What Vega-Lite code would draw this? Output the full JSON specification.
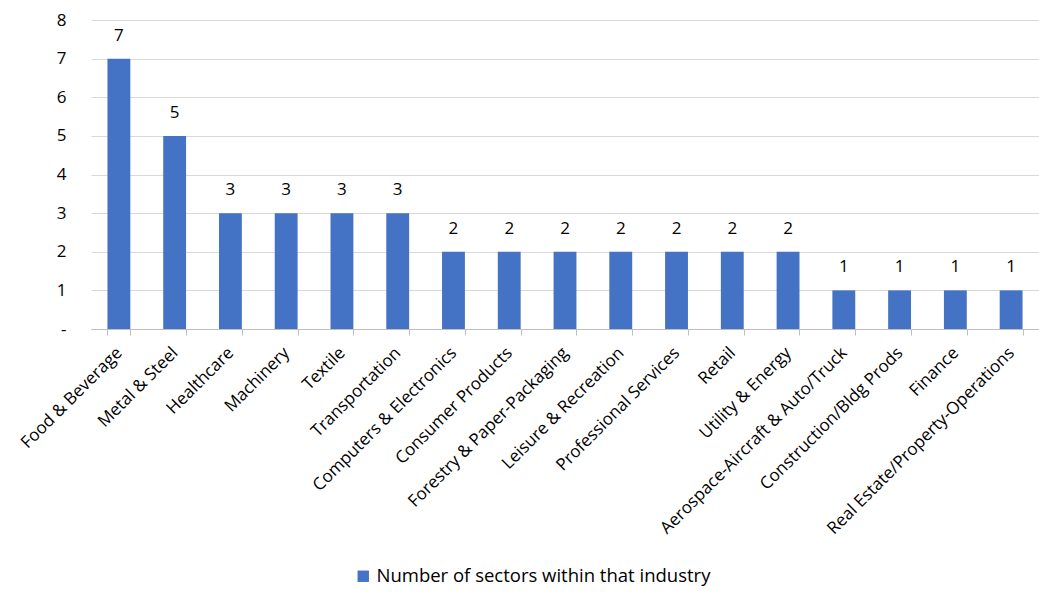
{
  "$schema": "https://vega.github.io/schema/vega-lite/v6.json",
  "autosize": "none",
  "width": 948,
  "height": 309,
  "padding": {"left": 91, "top": 20, "right": 0, "bottom": 283},
  "background": "white",
  "config": {
    "font": "Open Sans",
    "view": {"stroke": null}
  },
  "data": {
    "values": [
      {"industry": "Food & Beverage", "count": 7, "series": "Number of sectors within that industry"},
      {"industry": "Metal & Steel", "count": 5, "series": "Number of sectors within that industry"},
      {"industry": "Healthcare", "count": 3, "series": "Number of sectors within that industry"},
      {"industry": "Machinery", "count": 3, "series": "Number of sectors within that industry"},
      {"industry": "Textile", "count": 3, "series": "Number of sectors within that industry"},
      {"industry": "Transportation", "count": 3, "series": "Number of sectors within that industry"},
      {"industry": "Computers & Electronics", "count": 2, "series": "Number of sectors within that industry"},
      {"industry": "Consumer Products", "count": 2, "series": "Number of sectors within that industry"},
      {"industry": "Forestry & Paper-Packaging", "count": 2, "series": "Number of sectors within that industry"},
      {"industry": "Leisure & Recreation", "count": 2, "series": "Number of sectors within that industry"},
      {"industry": "Professional Services", "count": 2, "series": "Number of sectors within that industry"},
      {"industry": "Retail", "count": 2, "series": "Number of sectors within that industry"},
      {"industry": "Utility & Energy", "count": 2, "series": "Number of sectors within that industry"},
      {"industry": "Aerospace-Aircraft & Auto/Truck", "count": 1, "series": "Number of sectors within that industry"},
      {"industry": "Construction/Bldg Prods", "count": 1, "series": "Number of sectors within that industry"},
      {"industry": "Finance", "count": 1, "series": "Number of sectors within that industry"},
      {"industry": "Real Estate/Property-Operations", "count": 1, "series": "Number of sectors within that industry"}
    ]
  },
  "encoding": {
    "x": {
      "field": "industry",
      "type": "nominal",
      "sort": null,
      "scale": {"paddingInner": 0.59, "paddingOuter": 0.295},
      "axis": {
        "title": null,
        "labelAngle": -45,
        "labelAlign": "right",
        "labelBaseline": "middle",
        "labelFontSize": 17,
        "labelColor": "#000000",
        "labelPadding": 15,
        "labelLimit": 400,
        "labelOverlap": false,
        "tickBand": "extent",
        "tickColor": "#bfbfbf",
        "tickSize": 6,
        "domainColor": "#bfbfbf",
        "grid": false
      }
    },
    "y": {
      "field": "count",
      "type": "quantitative",
      "scale": {"domain": [0, 8]},
      "axis": {
        "title": null,
        "values": [0, 1, 2, 3, 4, 5, 6, 7, 8],
        "labelExpr": "datum.value == 0 ? '-' : datum.label",
        "labelOverlap": false,
        "labelFontSize": 17,
        "labelColor": "#000000",
        "labelPadding": 25,
        "ticks": false,
        "domain": false,
        "gridColor": "#d9d9d9",
        "gridWidth": 1
      }
    }
  },
  "layer": [
    {
      "mark": {"type": "bar", "color": "#4472C4"},
      "encoding": {
        "color": {
          "field": "series",
          "type": "nominal",
          "scale": {"range": ["#4472C4"]},
          "legend": {
            "title": null,
            "orient": "none",
            "legendX": 263,
            "legendY": 547,
            "symbolType": "square",
            "symbolSize": 130,
            "symbolStrokeWidth": 0,
            "labelFontSize": 18.5,
            "labelColor": "#000000",
            "labelLimit": 500
          }
        }
      }
    },
    {
      "mark": {"type": "text", "fontSize": 17, "color": "#000000", "baseline": "alphabetic", "dy": -18},
      "encoding": {"text": {"field": "count", "type": "quantitative"}}
    }
  ]
}
